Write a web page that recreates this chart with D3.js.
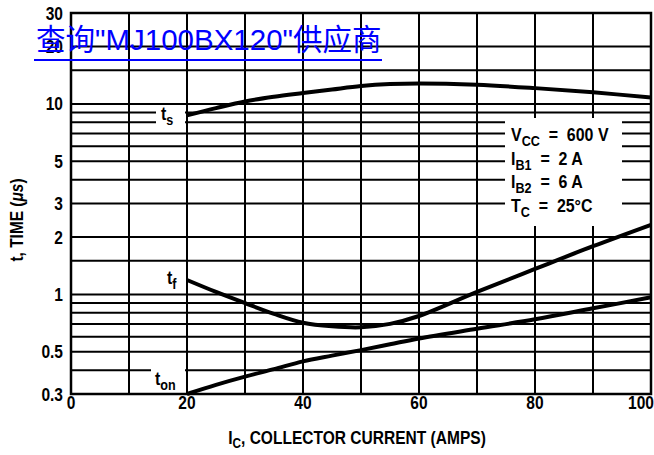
<!DOCTYPE html>
<html>
<head>
<meta charset="utf-8">
<script src="https://cdn.jsdelivr.net/npm/d3@7"></script>
<style>
  body { margin: 0; background: #fff; }
  svg { display: block; }
  text { font-family: "Liberation Sans Narrow", "Arial Narrow", "Liberation Sans", Arial, sans-serif; font-weight: bold; fill: #000; white-space: pre; }
</style>
</head>
<body>
<div id="chart-area"></div>
<script>
// DATA
const currentA = [20, 25, 30, 35, 40, 45, 50, 55, 60, 70, 80, 90, 100]
const tsUs = [8.7, 9.5, 10.3, 10.9, 11.4, 11.9, 12.4, 12.7, 12.8, 12.6, 12.1, 11.5, 10.8]
const tfUs = [1.19, 1.03, 0.9, 0.79, 0.71, 0.68, 0.672, 0.7, 0.77, 1.03, 1.36, 1.79, 2.32]
const tonUs = [0.3, 0.335, 0.37, 0.405, 0.445, 0.477, 0.51, 0.547, 0.587, 0.66, 0.74, 0.845, 0.965]

const xTicks = [0, 20, 40, 60, 80, 100]
const xGrid = [10, 20, 30, 40, 50, 60, 70, 80, 90]
const yTicks = [30, 20, 10, 5, 3, 2, 1, 0.5, 0.3]
const yGrid = [0.4, 0.5, 0.6, 0.7, 0.8, 0.9, 1, 1.5, 2, 3, 4, 5, 6, 7, 8, 9, 10, 15, 20]
const legendLines = [
  ["V", "CC", "  =  600 V"],
  ["I", "B1", "  =  2 A"],
  ["I", "B2", "  =  6 A"],
  ["T", "C", "  =  25°C"]
]
const watermark = "查询\"MJ100BX120\"供应商"

const WIDTH = 654
const HEIGHT = 455
const PLOT = { LEFT: 71, RIGHT: 651, TOP: 13, BOTTOM: 394 }
const NARROW = 0.84   // condensed look of the datasheet lettering

const svg = d3.select("#chart-area").append("svg")
  .attr("width", WIDTH)
  .attr("height", HEIGHT)

const tr = (px, py) => `translate(${px}, ${py}) scale(${NARROW}, 1)`

// SCALES
const x = d3.scaleLinear()
  .domain([0, 100])
  .range([PLOT.LEFT, PLOT.RIGHT])
const y = d3.scaleLog()
  .domain([0.3, 30])
  .range([PLOT.BOTTOM, PLOT.TOP])

// GRID
const grid = svg.append("g").attr("stroke", "#000").attr("stroke-width", 2)
grid.selectAll(".vg").data(xGrid).enter().append("line")
  .attr("x1", d => x(d)).attr("x2", d => x(d))
  .attr("y1", PLOT.TOP).attr("y2", PLOT.BOTTOM)
grid.selectAll(".hg").data(yGrid).enter().append("line")
  .attr("x1", PLOT.LEFT).attr("x2", PLOT.RIGHT)
  .attr("y1", d => y(d)).attr("y2", d => y(d))

// white patches behind the labels
svg.append("rect").attr("x", 156).attr("y", 105).attr("width", 29).attr("height", 24).attr("fill", "#fff")
svg.append("rect").attr("x", 151).attr("y", 360).attr("width", 34).attr("height", 32).attr("fill", "#fff")
svg.append("rect").attr("x", 505).attr("y", 118).attr("width", 117).attr("height", 108).attr("fill", "#fff")

// frame
svg.append("rect")
  .attr("x", PLOT.LEFT).attr("y", PLOT.TOP)
  .attr("width", PLOT.RIGHT - PLOT.LEFT).attr("height", PLOT.BOTTOM - PLOT.TOP)
  .attr("fill", "none").attr("stroke", "#000").attr("stroke-width", 2.5)

// CURVES
const line = d3.line()
  .x(d => x(d[0]))
  .y(d => y(d[1]))
  .curve(d3.curveCatmullRom.alpha(0.5))

;[tsUs, tfUs, tonUs].forEach(series => {
  svg.append("path")
    .datum(currentA.map((c, i) => [c, series[i]]))
    .attr("fill", "none")
    .attr("stroke", "#000")
    .attr("stroke-width", 4)
    .attr("d", line)
})

// TICK LABELS
svg.selectAll(".ytl").data(yTicks).enter().append("text")
  .attr("transform", d => tr(63, y(d) + 6.5))
  .attr("text-anchor", "end")
  .attr("font-size", "18.5px")
  .text(d => d)

svg.selectAll(".xtl").data(xTicks).enter().append("text")
  .attr("transform", d => tr(Math.min(x(d), WIDTH - 13), 409))
  .attr("text-anchor", "middle")
  .attr("font-size", "18.5px")
  .text(d => d)

// AXIS TITLES
const xTitle = svg.append("text")
  .attr("transform", tr(357, 444))
  .attr("text-anchor", "middle")
  .attr("font-size", "18.5px")
xTitle.append("tspan").text("I")
xTitle.append("tspan").attr("font-size", "14px").attr("dy", 4).text("C")
xTitle.append("tspan").attr("dy", -4).text(", COLLECTOR CURRENT (AMPS)")

const yTitle = svg.append("text")
  .attr("transform", "translate(23, 220) rotate(-90) scale(0.86, 1)")
  .attr("text-anchor", "middle")
  .attr("font-size", "18px")
yTitle.append("tspan").text("t, TIME (")
yTitle.append("tspan").attr("font-style", "italic").text("μs")
yTitle.append("tspan").text(")")

// CURVE LABELS
function subLabel(px, py, main, sub) {
  const t = svg.append("text").attr("transform", tr(px, py)).attr("font-size", "19px")
  t.append("tspan").text(main)
  t.append("tspan").attr("font-size", "15px").attr("dy", 5).text(sub)
}
subLabel(161, 120, "t", "s")
subLabel(167, 284, "t", "f")
subLabel(155, 385, "t", "on")

// CONDITIONS
legendLines.forEach((l, i) => {
  const t = svg.append("text")
    .attr("transform", tr(511, 141 + i * 23.5))
    .attr("font-size", "19px")
  t.append("tspan").text(l[0])
  t.append("tspan").attr("font-size", "15px").attr("dy", 5).text(l[1])
  t.append("tspan").attr("dy", -5).text(l[2])
})

// WATERMARK LINK
svg.append("text")
  .attr("x", 36)
  .attr("y", 49.5)
  .attr("font-size", "29.5px")
  .style("font-family", "'Liberation Sans', Arial, 'Noto Sans CJK SC', sans-serif")
  .style("font-weight", "normal")
  .style("fill", "#0000ff")
  .text(watermark)
svg.append("line")
  .attr("x1", 34).attr("x2", 382)
  .attr("y1", 60).attr("y2", 60)
  .attr("stroke", "#0000ff").attr("stroke-width", 2)
</script>
</body>
</html>
